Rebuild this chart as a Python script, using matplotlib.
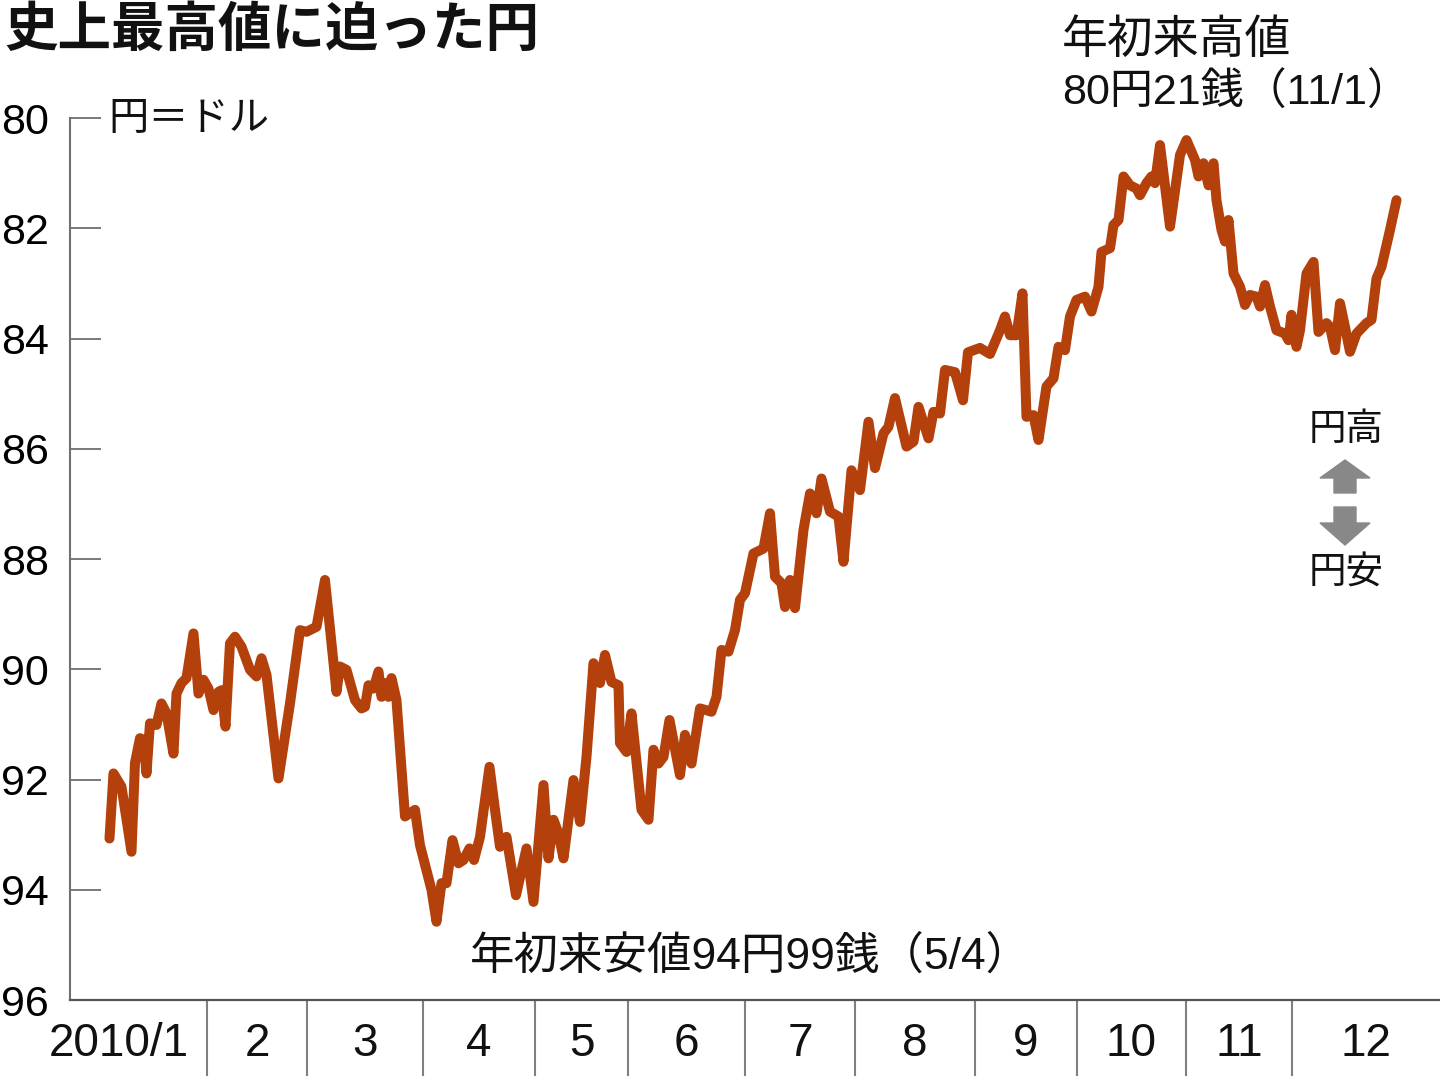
import matplotlib
matplotlib.use("Agg")
import matplotlib.pyplot as plt
import matplotlib.transforms as mtransforms
from matplotlib.patches import FancyArrow

# trading-day position of each traced point (2010/1 start = 0)
days = [
    0.3, 1.1, 2.7, 4.7, 5.4, 6.4, 7.1, 7.7, 8.4, 9.7, 10.7, 11.7, 13.1, 13.7,
    14.7, 15.7, 17.1, 18.1, 19.1, 20.1, 21.1, 22.1, 22.7, 23.5, 24.4, 25.4,
    26.7, 28.4, 29.7, 30.7, 31.7, 34.1, 36.4, 38.4, 39.7, 41.7, 43.4, 45.7,
    46.4, 47.7, 49.4, 50.7, 51.4, 52.1, 53.1, 54.1, 54.7, 55.4, 56.1, 56.7,
    57.7, 59.4, 61.4, 62.4, 64.7, 65.7,
    66.7, 67.7, 68.9, 70.1, 71.1, 72.3, 73.2, 74.4, 76.3, 77.4, 78.4, 79.7,
    81.6, 83.7, 85.1, 87.1, 88.1, 89.1, 90.1, 91.1, 93.1, 94.4, 95.7, 97.1,
    98.4, 99.4, 100.7, 102.1, 102.4, 103.7, 104.7, 106.7, 108.1, 109.1, 110.1,
    111.1, 112.3, 114.4, 115.4, 116.7, 118.4, 120.7, 121.7, 122.7, 124.1, 125.4,
    126.4, 127.4, 129.1, 131.1, 132.4, 133.4, 134.7, 135.4, 136.4, 137.4,
    139.1, 140.4, 141.7, 142.7, 144.4, 146.1, 147.1, 148.7, 150.4, 152.1,
    153.4, 155.1, 156.1, 157.4, 159.7, 161.1, 162.1, 164.1, 165.1, 166.4,
    167.4, 169.4, 171.0, 172.0, 174.4, 176.4,
    178.4, 179.4, 180.4, 181.7, 182.9, 183.7, 185.1, 186.1, 187.7, 189.1,
    190.1, 191.4, 192.4, 193.7, 195.4, 196.7, 198.1, 198.7, 200.4, 201.1,
    202.1, 203.1, 204.4, 205.7, 206.4, 207.7, 208.7, 209.4, 210.4, 212.4,
    214.4, 215.7, 217.4, 218.1, 219.1, 220.1, 221.1,
    221.7, 222.7, 223.4, 224.1, 225.1, 226.4, 227.4, 228.4, 229.7, 230.4,
    231.4, 232.4, 233.7, 235.4, 236.1, 236.7, 237.7, 238.4, 239.7, 241.1,
    242.1, 243.7, 244.4, 245.4, 246.4, 247.4, 248.4, 249.7, 251.7, 252.7,
    253.7, 254.7, 256.4, 257.7,
]

# yen per dollar
rates = [
    93.07, 91.89, 92.13, 93.31, 91.70, 91.25, 91.28, 91.89, 90.98, 91.01,
    90.62, 90.80, 91.53, 90.44, 90.25, 90.16, 89.35, 90.44, 90.19, 90.35,
    90.74, 90.41, 90.38, 91.04, 89.53, 89.41, 89.59, 90.01, 90.13, 89.80,
    90.10, 91.98, 90.62, 89.29, 89.32, 89.23, 88.38, 90.41, 89.95, 90.01,
    90.56, 90.71, 90.68, 90.29, 90.35, 90.04, 90.50, 90.25, 90.50, 90.16,
    90.56, 92.67, 92.55, 93.19, 94.00, 94.58,
    93.88, 93.88, 93.10, 93.52, 93.46, 93.25, 93.46, 93.04, 91.77, 92.55,
    93.22, 93.04, 94.10, 93.25, 94.22, 92.10, 93.43, 92.73, 92.98, 93.43,
    92.01, 92.77, 91.59, 89.89, 90.25, 89.74, 90.23, 90.29, 91.34, 91.50,
    90.80, 92.55, 92.73, 91.46, 91.71, 91.59, 90.92, 91.92, 91.19, 91.71,
    90.71, 90.77, 90.50, 89.65, 89.68, 89.29,
    88.74, 88.62, 87.90, 87.81, 87.17, 88.32, 88.44, 88.87, 88.38, 88.89,
    87.47, 86.81, 87.17, 86.54, 87.14, 87.23, 88.05, 86.39, 86.75, 85.51,
    86.35, 85.72, 85.60, 85.08, 85.96, 85.87, 85.24, 85.81, 85.33, 85.36,
    84.57, 84.61, 85.12, 84.25, 84.17, 84.28,
    83.85, 83.60, 83.94, 83.94, 83.18, 85.42, 85.39, 85.84, 84.87, 84.72,
    84.15, 84.21, 83.60, 83.30, 83.24, 83.51, 83.06, 82.43, 82.36, 81.94,
    81.85, 81.06, 81.22, 81.28, 81.40, 81.18, 81.06, 81.18, 80.49, 81.97,
    80.67, 80.40, 80.76, 81.06, 80.82, 81.22, 80.82,
    81.49, 82.03, 82.24, 81.85, 82.82, 83.06, 83.39, 83.21, 83.24, 83.42,
    83.03, 83.42, 83.85, 83.91, 84.03, 83.57, 84.15, 83.85, 82.82, 82.61,
    83.88, 83.72, 83.79, 84.21, 83.36, 83.79, 84.24, 83.91, 83.72, 83.66,
    82.91, 82.70, 82.03, 81.49,
]

month_labels = ["2010/1", "2", "3", "4", "5", "6", "7", "8", "9", "10", "11", "12"]
month_starts = [19.8, 39.8, 63.0, 85.4, 104.0, 127.4, 149.4, 173.4, 193.8, 215.6, 236.8]
y_ticks = [80, 82, 84, 86, 88, 90, 92, 94, 96]

LINE_COLOR = "#b4400c"
NUM = ["Liberation Sans", "DejaVu Sans"]
JP = ["Noto Sans CJK JP", "DejaVu Sans"]
MIXED = ["Liberation Sans", "Noto Sans CJK JP", "DejaVu Sans"]

fig = plt.figure(figsize=(14.4, 10.79), dpi=100)
ax = fig.add_axes([0.0486, 0.0732, 0.9514, 0.8174])

ax.plot(days, rates, color=LINE_COLOR, linewidth=7.2,
        solid_joinstyle="round", solid_capstyle="round", zorder=3)

x_left, x_right = -7.6, 266.4
ax.set_xlim(x_left, x_right)
ax.set_ylim(96, 80)

for side in ["top", "right"]:
    ax.spines[side].set_visible(False)
ax.spines["left"].set_color("#707070")
ax.spines["left"].set_linewidth(1.5)
ax.spines["bottom"].set_color("#555555")
ax.spines["bottom"].set_linewidth(1.6)

ax.set_yticks(y_ticks)
ax.set_yticklabels([str(v) for v in y_ticks], family=NUM, fontsize=31)
ax.tick_params(axis="y", direction="in", length=22, width=1.3,
               color="#707070", pad=15)
ax.set_xticks([])

# month separators and labels below the axis
trans = mtransforms.blended_transform_factory(ax.transData, ax.transAxes)
for x in month_starts:
    ax.plot([x, x], [0, -0.085], transform=trans, color="#808080",
            linewidth=1.5, clip_on=False)

edges = [x_left] + month_starts + [x_right]
for i, label in enumerate(month_labels):
    if i == 0:
        xc = 2.2
    else:
        xc = (edges[i] + edges[i + 1]) / 2
    ax.text(xc, -0.05, label, transform=trans, ha="center", va="center",
            family=NUM, fontsize=33, color="#111111")

# texts
fig.text(0.003, 0.972, "史上最高値に迫った円", family=JP, fontsize=38.5,
         fontweight="bold", va="center", ha="left", color="#111111")
fig.text(0.075, 0.8906, "円＝ドル", family=JP, fontsize=29,
         va="center", ha="left", color="#111111")
fig.text(0.7375, 0.963, "年初来高値", family=JP, fontsize=33,
         va="center", ha="left", color="#111111")
fig.text(0.7375, 0.9138, "80円21銭（11/1）", family=MIXED, fontsize=31,
         va="center", ha="left", color="#111111")
fig.text(0.326, 0.113, "年初来安値94円99銭（5/4）", family=MIXED, fontsize=32,
         va="center", ha="left", color="#111111")
fig.text(0.935, 0.6015, "円高", family=JP, fontsize=27,
         va="center", ha="center", color="#111111")
fig.text(0.935, 0.469, "円安", family=JP, fontsize=27,
         va="center", ha="center", color="#111111")

# up / down arrows
fig.add_artist(FancyArrow(13.45, 5.86, 0, 0.33, width=0.22, head_width=0.5,
                          head_length=0.18, length_includes_head=True,
                          color="#888888", transform=fig.dpi_scale_trans))
fig.add_artist(FancyArrow(13.45, 5.72, 0, -0.38, width=0.22, head_width=0.5,
                          head_length=0.22, length_includes_head=True,
                          color="#888888", transform=fig.dpi_scale_trans))

fig.savefig("out.png", dpi=100)
